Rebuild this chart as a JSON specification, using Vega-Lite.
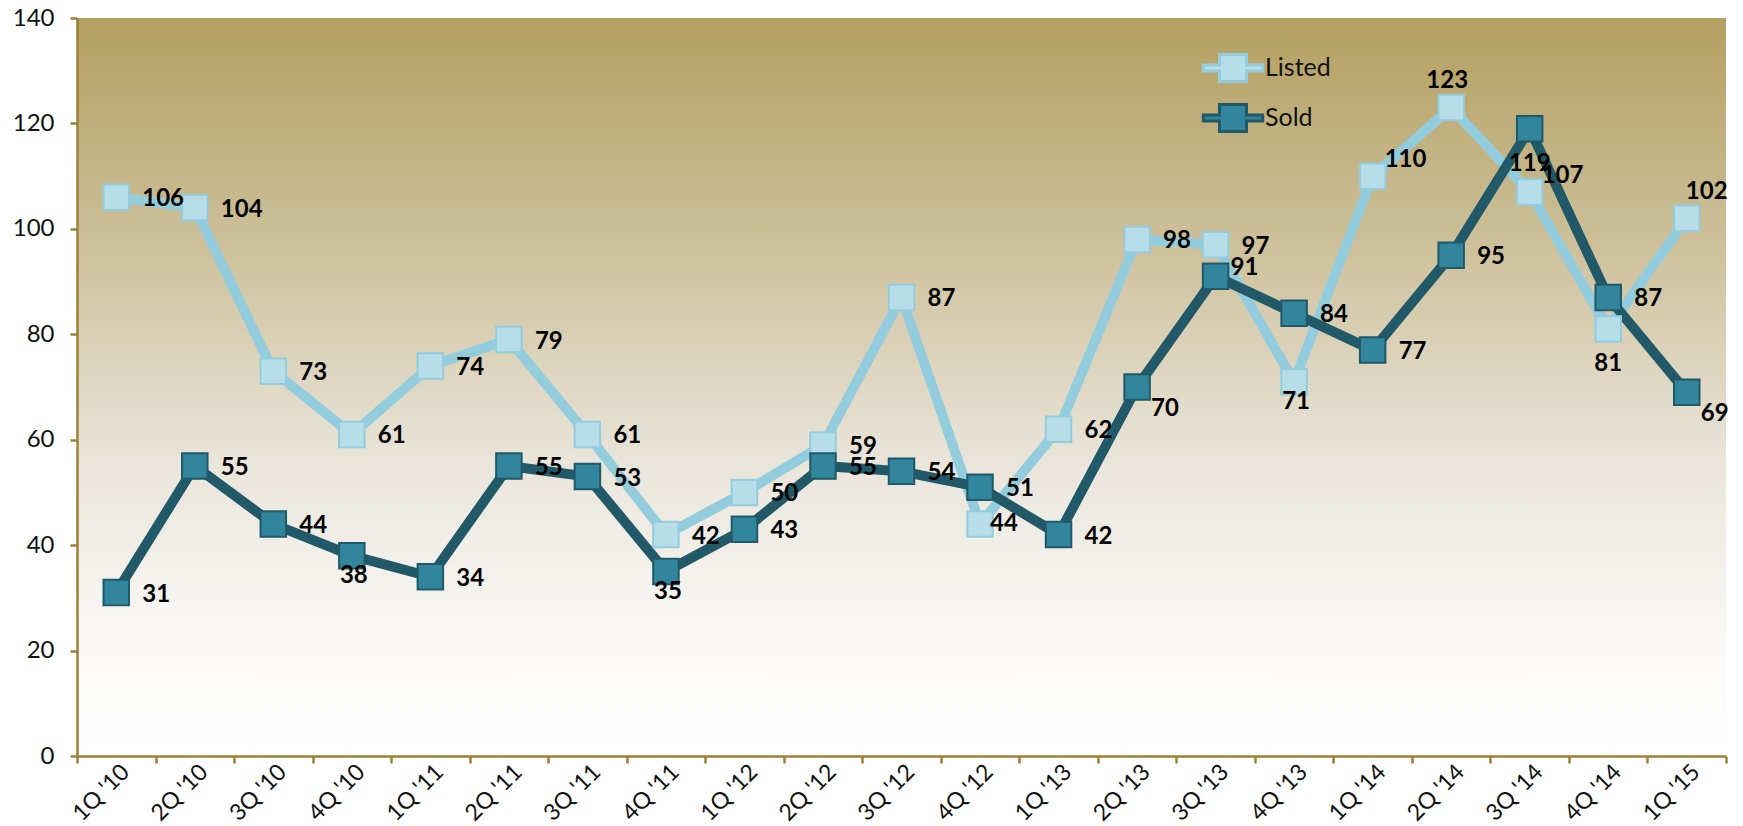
{
  "$schema": "https://vega.github.io/schema/vega-lite/v6.json",
  "width": 1649,
  "height": 738,
  "autosize": {"type": "none"},
  "padding": {"left": 77, "top": 18, "right": 17, "bottom": 70},
  "background": "#ffffff",
  "config": {
    "font": "Lato",
    "view": {
      "stroke": null,
      "fill": {
        "gradient": "linear",
        "x1": 0, "y1": 0, "x2": 0, "y2": 1,
        "stops": [
          {"offset": 0, "color": "#b39f60"},
          {"offset": 0.34, "color": "#d0c4a1"},
          {"offset": 0.61, "color": "#eae6dc"},
          {"offset": 0.88, "color": "#fcfbfa"},
          {"offset": 1, "color": "#ffffff"}
        ]
      }
    },
    "axis": {
      "domainColor": "#9c8034",
      "domainWidth": 2.5,
      "tickColor": "#9c8034",
      "tickWidth": 2.5,
      "tickSize": 7,
      "grid": false,
      "title": null,
      "labelColor": "#111111",
      "labelFont": "Lato"
    },
    "legend": {
      "title": null,
      "orient": "none",
      "legendX": 1141,
      "legendY": 35,
      "symbolType": "M-2.2,-0.22H-1V-1H1V-0.22H2.2V0.22H1V1H-1V0.22H-2.2Z",
      "symbolSize": 729,
      "symbolStrokeWidth": 3,
      "labelFontSize": 25,
      "labelFont": "Lato",
      "labelColor": "#111111",
      "labelOffset": 17,
      "rowPadding": 10
    }
  },
  "data": {
    "values": [
      {"quarter": "1Q '10", "series": "Listed", "value": 106},
      {"quarter": "2Q '10", "series": "Listed", "value": 104},
      {"quarter": "3Q '10", "series": "Listed", "value": 73},
      {"quarter": "4Q '10", "series": "Listed", "value": 61},
      {"quarter": "1Q '11", "series": "Listed", "value": 74},
      {"quarter": "2Q '11", "series": "Listed", "value": 79},
      {"quarter": "3Q '11", "series": "Listed", "value": 61},
      {"quarter": "4Q '11", "series": "Listed", "value": 42},
      {"quarter": "1Q '12", "series": "Listed", "value": 50},
      {"quarter": "2Q '12", "series": "Listed", "value": 59},
      {"quarter": "3Q '12", "series": "Listed", "value": 87},
      {"quarter": "4Q '12", "series": "Listed", "value": 44},
      {"quarter": "1Q '13", "series": "Listed", "value": 62},
      {"quarter": "2Q '13", "series": "Listed", "value": 98},
      {"quarter": "3Q '13", "series": "Listed", "value": 97},
      {"quarter": "4Q '13", "series": "Listed", "value": 71},
      {"quarter": "1Q '14", "series": "Listed", "value": 110},
      {"quarter": "2Q '14", "series": "Listed", "value": 123},
      {"quarter": "3Q '14", "series": "Listed", "value": 107},
      {"quarter": "4Q '14", "series": "Listed", "value": 81},
      {"quarter": "1Q '15", "series": "Listed", "value": 102},
      {"quarter": "1Q '10", "series": "Sold", "value": 31},
      {"quarter": "2Q '10", "series": "Sold", "value": 55},
      {"quarter": "3Q '10", "series": "Sold", "value": 44},
      {"quarter": "4Q '10", "series": "Sold", "value": 38},
      {"quarter": "1Q '11", "series": "Sold", "value": 34},
      {"quarter": "2Q '11", "series": "Sold", "value": 55},
      {"quarter": "3Q '11", "series": "Sold", "value": 53},
      {"quarter": "4Q '11", "series": "Sold", "value": 35},
      {"quarter": "1Q '12", "series": "Sold", "value": 43},
      {"quarter": "2Q '12", "series": "Sold", "value": 55},
      {"quarter": "3Q '12", "series": "Sold", "value": 54},
      {"quarter": "4Q '12", "series": "Sold", "value": 51},
      {"quarter": "1Q '13", "series": "Sold", "value": 42},
      {"quarter": "2Q '13", "series": "Sold", "value": 70},
      {"quarter": "3Q '13", "series": "Sold", "value": 91},
      {"quarter": "4Q '13", "series": "Sold", "value": 84},
      {"quarter": "1Q '14", "series": "Sold", "value": 77},
      {"quarter": "2Q '14", "series": "Sold", "value": 95},
      {"quarter": "3Q '14", "series": "Sold", "value": 119},
      {"quarter": "4Q '14", "series": "Sold", "value": 87},
      {"quarter": "1Q '15", "series": "Sold", "value": 69}
    ]
  },
  "encoding": {
    "x": {
      "field": "quarter",
      "type": "nominal",
      "sort": null,
      "scale": {"type": "band", "paddingInner": 0, "paddingOuter": 0},
      "axis": {
        "tickBand": "extent",
        "labelAngle": -45,
        "labelAlign": "right",
        "labelBaseline": "middle",
        "labelFontSize": 23,
        "labelPadding": 5,
        "labelOffset": 9
      }
    },
    "y": {
      "field": "value",
      "type": "quantitative",
      "scale": {"domain": [0, 140], "nice": false, "zero": true},
      "axis": {
        "values": [0, 20, 40, 60, 80, 100, 120, 140],
        "labelFontSize": 24,
        "labelPadding": 16
      }
    }
  },
  "layer": [
    {
      "mark": {"type": "line", "strokeWidth": 10, "strokeJoin": "round", "strokeCap": "round"},
      "encoding": {
        "stroke": {
          "field": "series",
          "type": "nominal",
          "scale": {"domain": ["Listed", "Sold"], "range": ["#93cddd", "#215968"]}
        },
        "detail": {"field": "series"}
      }
    },
    {
      "mark": {"type": "point", "shape": "square", "filled": true, "size": 650, "strokeWidth": 2, "opacity": 1},
      "encoding": {
        "fill": {
          "field": "series",
          "type": "nominal",
          "scale": {"domain": ["Listed", "Sold"], "range": ["#b7dde8", "#31859c"]}
        },
        "stroke": {
          "field": "series",
          "type": "nominal",
          "scale": {"domain": ["Listed", "Sold"], "range": ["#93cddd", "#215968"]}
        }
      }
    },
    {
      "transform": [{"filter": {"not": {"or": [
        {"and": [{"field": "series", "equal": "Listed"}, {"field": "quarter", "oneOf": ["2Q '14", "1Q '15", "1Q '14", "3Q '14", "4Q '13", "4Q '14", "4Q '12"]}]},
        {"and": [{"field": "series", "equal": "Sold"}, {"field": "quarter", "oneOf": ["3Q '13", "4Q '10", "4Q '11", "3Q '14", "1Q '15", "2Q '13"]}]}
      ]}}}],
      "mark": {"type": "text", "align": "left", "baseline": "middle", "dx": 26, "dy": 2, "fontSize": 24, "fontWeight": "bold", "font": "Lato", "color": "#000000"},
      "encoding": {"text": {"field": "value", "type": "quantitative"}}
    },
    {
      "transform": [{"filter": {"and": [{"field": "series", "equal": "Listed"}, {"field": "quarter", "oneOf": ["2Q '14"]}]}}],
      "mark": {"type": "text", "align": "center", "baseline": "middle", "dx": -4, "dy": -27, "fontSize": 24, "fontWeight": "bold", "font": "Lato", "color": "#000000"},
      "encoding": {"text": {"field": "value", "type": "quantitative"}}
    },
    {
      "transform": [{"filter": {"and": [{"field": "series", "equal": "Listed"}, {"field": "quarter", "oneOf": ["1Q '15"]}]}}],
      "mark": {"type": "text", "align": "center", "baseline": "middle", "dx": 20, "dy": -26, "fontSize": 24, "fontWeight": "bold", "font": "Lato", "color": "#000000"},
      "encoding": {"text": {"field": "value", "type": "quantitative"}}
    },
    {
      "transform": [{"filter": {"and": [{"field": "series", "equal": "Listed"}, {"field": "quarter", "oneOf": ["1Q '14", "3Q '14"]}]}}],
      "mark": {"type": "text", "align": "left", "baseline": "middle", "dx": 12, "dy": -16, "fontSize": 24, "fontWeight": "bold", "font": "Lato", "color": "#000000"},
      "encoding": {"text": {"field": "value", "type": "quantitative"}}
    },
    {
      "transform": [{"filter": {"and": [{"field": "series", "equal": "Sold"}, {"field": "quarter", "oneOf": ["3Q '13"]}]}}],
      "mark": {"type": "text", "align": "left", "baseline": "middle", "dx": 15, "dy": -8, "fontSize": 24, "fontWeight": "bold", "font": "Lato", "color": "#000000"},
      "encoding": {"text": {"field": "value", "type": "quantitative"}}
    },
    {
      "transform": [{"filter": {"or": [
        {"and": [{"field": "series", "equal": "Listed"}, {"field": "quarter", "oneOf": ["4Q '13"]}]},
        {"and": [{"field": "series", "equal": "Sold"}, {"field": "quarter", "oneOf": ["4Q '10", "4Q '11"]}]}
      ]}}],
      "mark": {"type": "text", "align": "center", "baseline": "middle", "dx": 2, "dy": 20, "fontSize": 24, "fontWeight": "bold", "font": "Lato", "color": "#000000"},
      "encoding": {"text": {"field": "value", "type": "quantitative"}}
    },
    {
      "transform": [{"filter": {"or": [
        {"and": [{"field": "series", "equal": "Listed"}, {"field": "quarter", "oneOf": ["4Q '14"]}]},
        {"and": [{"field": "series", "equal": "Sold"}, {"field": "quarter", "oneOf": ["3Q '14"]}]}
      ]}}],
      "mark": {"type": "text", "align": "center", "baseline": "middle", "dx": 0, "dy": 35, "fontSize": 24, "fontWeight": "bold", "font": "Lato", "color": "#000000"},
      "encoding": {"text": {"field": "value", "type": "quantitative"}}
    },
    {
      "transform": [{"filter": {"and": [{"field": "series", "equal": "Sold"}, {"field": "quarter", "oneOf": ["1Q '15", "2Q '13"]}]}}],
      "mark": {"type": "text", "align": "left", "baseline": "middle", "dx": 14, "dy": 22, "fontSize": 24, "fontWeight": "bold", "font": "Lato", "color": "#000000"},
      "encoding": {"text": {"field": "value", "type": "quantitative"}}
    },
    {
      "transform": [{"filter": {"and": [{"field": "series", "equal": "Listed"}, {"field": "quarter", "oneOf": ["4Q '12"]}]}}],
      "mark": {"type": "text", "align": "left", "baseline": "middle", "dx": 10, "dy": 0, "fontSize": 24, "fontWeight": "bold", "font": "Lato", "color": "#000000"},
      "encoding": {"text": {"field": "value", "type": "quantitative"}}
    }
  ]
}
